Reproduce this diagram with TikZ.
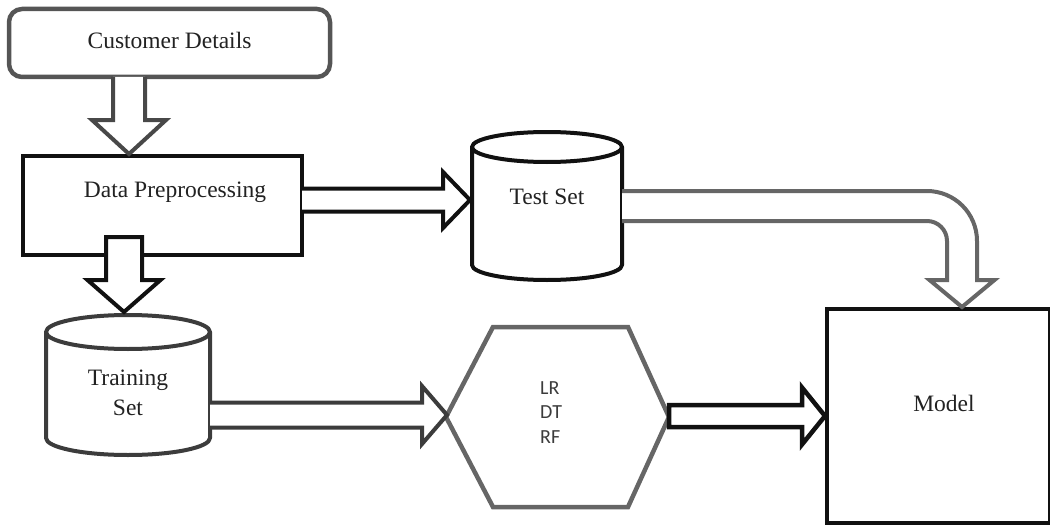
\documentclass[tikz,border=0pt]{standalone}
\usepackage{fontspec}
\setmainfont{Liberation Serif}
\newfontfamily\calfont{Carlito}
\usetikzlibrary{calc}

\definecolor{inkblack}{HTML}{111111}
\definecolor{inkgray}{HTML}{555555}
\definecolor{inkmid}{HTML}{666666}
\definecolor{inkdark}{HTML}{3C3C3C}
\definecolor{txt}{HTML}{222222}

% horizontal block arrow: style, start, tip, shaft half width, head half width, head length, ending
\newcommand\hblock[7]{%
  \filldraw[#1] let \p1=(#2), \p2=(#3) in
    (\x1,\y2+#4) -- (\x2-#6,\y2+#4) -- (\x2-#6,\y2+#5) -- (\x2,\y2)
    -- (\x2-#6,\y2-#5) -- (\x2-#6,\y2-#4) -- (\x1,\y2-#4) #7;}

% downward block arrow: style, start, tip, shaft half width, head half width, head length, ending
\newcommand\vblock[7]{%
  \filldraw[#1] let \p1=(#2), \p2=(#3) in
    (\x2-#4,\y1) -- (\x2-#4,\y2+#6) -- (\x2-#5,\y2+#6) -- (\x2,\y2)
    -- (\x2+#5,\y2+#6) -- (\x2+#4,\y2+#6) -- (\x2+#4,\y1) #7;}

% upright cylinder drawn over the frame of a named node: node, ellipse half height, style
\newcommand\cylinderat[3]{%
  \filldraw[#3] let \p1=(#1.north west), \p2=(#1.south east), \n1={(\x2-\x1)/2} in
    (\x1,\y1-#2) -- (\x1,\y2+#2)
    arc[start angle=180,end angle=360,x radius=\n1,y radius=#2]
    -- (\x2,\y1-#2)
    arc[start angle=0,end angle=180,x radius=\n1,y radius=#2] -- cycle
    (\x1,\y1-#2) arc[start angle=180,end angle=360,x radius=\n1,y radius=#2];}

\tikzset{
  frame/.style={rectangle,outer sep=0pt,inner sep=0pt},
  softbox/.style={frame,draw=inkgray,line width=4.5pt,rounded corners=13pt,fill=white},
  hardbox/.style={frame,draw=inkblack,line width=4.5pt,fill=white},
  ghost/.style={frame,draw=none},
  label/.style={inner sep=0pt,text=txt,font=\fontsize{23.5}{30}\selectfont,align=center},
  cylline/.style={line width=4pt,fill=white,line join=round},
  grayarrow/.style={draw=inkgray,line width=4pt,fill=white,line join=miter},
  blackarrow/.style={draw=inkblack,line width=4.5pt,fill=white,line join=miter},
}

\begin{document}
\begin{tikzpicture}[x=1pt,y=-1pt]
\useasboundingbox (0,0) rectangle (1050,527);

% boxes and shapes
\node[softbox,minimum width=321pt,minimum height=68pt] (cust) at (169.5,43) {};
\node[hardbox,minimum width=279pt,minimum height=99pt] (prep) at (162.5,205.5) {};
\node[ghost,minimum width=150pt,minimum height=148pt] (test) at (547,206) {};
\node[ghost,minimum width=164pt,minimum height=140pt] (train) at (128,385) {};
\node[ghost,minimum width=223pt,minimum height=180pt] (hex) at (557.5,417) {};
\node[hardbox,minimum width=223pt,minimum height=214pt] (model) at (938.5,416) {};

\cylinderat{test}{15pt}{cylline,draw=inkblack}
\cylinderat{train}{17pt}{cylline,draw=inkdark}

\draw[draw=inkmid,line width=4.5pt,line join=miter]
  let \p1=(hex.north west), \p2=(hex.south east), \p3=(hex.center) in
  (\x1,\y3) -- (\x1+47pt,\y1) -- (\x2-41pt,\y1) -- (\x2,\y3)
  -- (\x2-41pt,\y2) -- (\x1+47pt,\y2) -- cycle;

% texts
\node[label] (custtext) at ([yshift=3pt]cust.center) {Customer Details};
\node[label] (preptext) at (175,192) {Data Preprocessing};
\node[label] (testtext) at ([yshift=9pt]test.center) {Test Set};
\node[label] (traintext) at ([yshift=-8pt]train.center) {Training\\Set};
\node[label] (modeltext) at ([xshift=5.5pt,yshift=13pt]model.center) {Model};
\node[inner sep=0pt,anchor=west,align=left,text=inkdark,
      font=\calfont\fontsize{20}{24.5}\selectfont] (algs) at (540,412.5) {LR\\DT\\RF};

% block arrows
\vblock{grayarrow,draw=inkgray!85!black}{cust.south}{[xshift=-33.5pt,yshift=2pt]prep.north}{16pt}{37pt}{34pt}{}
\hblock{blackarrow,line width=4pt}{[yshift=6pt]prep.east}{[xshift=-2pt,yshift=6pt]test.west}{11.5pt}{28pt}{27pt}{}
\vblock{blackarrow,line width=4pt}{[xshift=-38.5pt,yshift=18pt]prep.south}{[xshift=-4pt,yshift=3pt]train.north}{18pt}{36.5pt}{32pt}{-- cycle}
\hblock{grayarrow,draw=inkdark}{[yshift=-30pt]train.east}{[xshift=1pt,yshift=2pt]hex.west}{12.5pt}{29pt}{25pt}{}
\hblock{blackarrow}{[yshift=1pt]hex.east}{[xshift=-2pt]model.west}{11pt}{28.5pt}{23pt}{-- cycle}

% bent arrow from the test set down onto the model
\filldraw[grayarrow,draw=inkmid]
  let \p1=(test.east), \p2=([xshift=23.5pt,yshift=2pt]model.north) in
  (\x1,\y1+15pt) -- (\x2-35pt,\y1+15pt)
  arc[start angle=90,end angle=0,radius=50pt]
  -- (\x2+15pt,\y2+27pt) -- (\x2+32.5pt,\y2+27pt) -- (\x2,\y2)
  -- (\x2-32.5pt,\y2+27pt) -- (\x2-15pt,\y2+27pt) -- (\x2-15pt,\y1-35pt)
  arc[start angle=0,end angle=90,radius=20pt]
  -- (\x1,\y1-15pt);
\end{tikzpicture}
\end{document}
